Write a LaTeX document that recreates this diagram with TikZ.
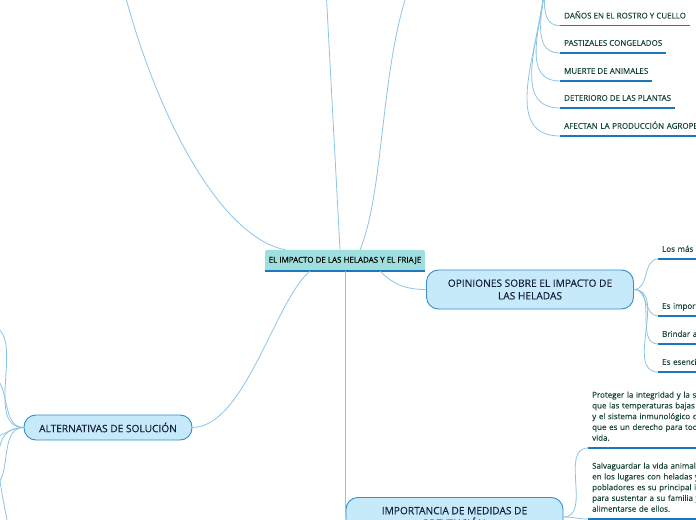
\documentclass[tikz,border=0pt]{standalone}
\usepackage{fontspec}
\setmainfont{Open Sans}[FakeBold=0.3]
\usetikzlibrary{positioning, calc}
\definecolor{centralfill}{RGB}{159,223,222}
\definecolor{topicfill}{RGB}{198,234,250}
\definecolor{topicline}{RGB}{52,140,205}
\definecolor{topictext}{RGB}{22,32,62}
\definecolor{branchline}{RGB}{140,196,230}
\definecolor{subline}{RGB}{27,120,190}
\definecolor{subtext}{RGB}{24,70,52}

\begin{document}
\begin{tikzpicture}[
  x=1bp, y=-1bp,
  central/.style={
    rectangle, rounded corners=2pt,
    minimum width=160bp, minimum height=21bp, inner sep=0pt,
    fill=centralfill, text=black,
    font=\fontsize{8}{9.5}\selectfont
  },
  topic/.style={
    rectangle, rounded corners=12bp,
    draw=topicline, line width=0.9bp, fill=topicfill,
    inner sep=0pt, align=center, text=topictext,
    font=\fontsize{10.2}{12.7}\selectfont
  },
  subitem/.style={
    anchor=south west, inner xsep=4bp, inner ysep=0pt, text depth=7bp,
    text=subtext, font=\fontsize{8}{10.8}\selectfont
  },
  subblock/.style={
    anchor=south west, inner xsep=4bp, inner ysep=7bp,
    text width=130bp, align=left,
    text=subtext, font=\fontsize{8}{10.8}\selectfont
  },
  branch/.style={draw=branchline, line width=0.8bp},
  uline/.style={draw=subline, line width=1.4bp}
]
\useasboundingbox (0,0) rectangle (696,520);
\clip (0,0) rectangle (696,520);

\coordinate (arriba) at (325,-30);
\coordinate (derecha) at (412,-20);
\coordinate (izquierda) at (120,-25);
\coordinate (consecuencias) at (546,-30);
\coordinate (alt1) at (-12,326);
\coordinate (alt2) at (-12,376);
\coordinate (alt3) at (-12,438);
\coordinate (alt4) at (-12,488);
\coordinate (alt5) at (-12,600);

\node[central] (impacto) at (345,260.5) {EL IMPACTO DE LAS HELADAS Y EL FRIAJE};
\node[topic, minimum width=207bp, minimum height=39bp] (opiniones) at (530,289.5) {OPINIONES SOBRE EL IMPACTO DE\\LAS HELADAS};
\node[topic, minimum width=168bp, minimum height=25bp] (alternativas) at (108,427.5) {ALTERNATIVAS DE SOLUCIÓN};
\node[topic, minimum width=217bp, minimum height=39bp, anchor=north] (importancia) at (454.5,497) {IMPORTANCIA DE MEDIDAS DE\\PREVENCIÓN};

\node[subitem] (danos) at (560,25.7) {DAÑOS EN EL ROSTRO Y CUELLO};
\node[subitem] (pastizales) at (560,53) {PASTIZALES CONGELADOS};
\node[subitem] (muerte) at (560,81) {MUERTE DE ANIMALES};
\node[subitem] (deterioro) at (560,108) {DETERIORO DE LAS PLANTAS};
\node[subitem, text width=150bp, align=left] (afectan) at (560,136) {AFECTAN LA PRODUCCIÓN AGROPE};

\node[subitem, text width=60bp, align=left] (losmas) at (658,259) {Los más a};
\node[subitem, text width=60bp, align=left] (esimpor) at (658,316) {Es impor};
\node[subitem, text width=60bp, align=left] (brindar) at (658,344) {Brindar a};
\node[subitem, text width=60bp, align=left] (esesenci) at (658,372) {Es esenci};

\node[subblock] (proteger) at (588,448) {Proteger la integridad y la s\\que las temperaturas bajas\\y el sistema inmunológico c\\que es un derecho para tod\\vida.};
\node[subblock] (salvaguardar) at (588,519) {Salvaguardar la vida animal\\en los lugares con heladas y\\pobladores es su principal i\\para sustentar a su familia y\\alimentarse de ellos.};

\draw[uline] (impacto.south west) -- (impacto.south east);
\draw[uline] (danos.south west) -- (danos.south east);
\draw[uline] (pastizales.south west) -- (pastizales.south east);
\draw[uline] (muerte.south west) -- (muerte.south east);
\draw[uline] (deterioro.south west) -- (deterioro.south east);
\draw[uline] (afectan.south west) -- (afectan.south east);
\draw[uline] (losmas.south west) -- (losmas.south east);
\draw[uline] (esimpor.south west) -- (esimpor.south east);
\draw[uline] (brindar.south west) -- (brindar.south east);
\draw[uline] (esesenci.south west) -- (esesenci.south east);
\draw[uline] (proteger.south west) -- (proteger.south east);
\draw[uline] (salvaguardar.south west) -- (salvaguardar.south east);

\draw[branch] ([xshift=-5bp]impacto.north) -- (arriba);
\draw[branch] ([xshift=15bp]impacto.north) .. controls (385,190) and (380,60) .. (derecha);
\draw[branch] ([xshift=-60bp]impacto.north) .. controls (215,235) and (150,100) .. (izquierda);
\draw[branch] ([xshift=35bp]impacto.south) to[out=-45,in=180] (opiniones.west);
\draw[branch] (impacto.south) -- (impacto.south |- importancia.west);
\draw[branch] ([xshift=-35bp]impacto.south) .. controls (275,300) and (245,427) .. (alternativas.east);

\draw[branch] (consecuencias) to[out=-90,in=180] (danos.south west);
\draw[branch] (consecuencias) to[out=-90,in=180] (pastizales.south west);
\draw[branch] (consecuencias) to[out=-90,in=180] (muerte.south west);
\draw[branch] (consecuencias) to[out=-90,in=180] (deterioro.south west);
\draw[branch] (consecuencias) to[out=-90,in=180] (afectan.south west);

\draw[branch] (opiniones.east) to[out=0,in=180] (losmas.south west);
\draw[branch] (opiniones.east) to[out=0,in=180] (esimpor.south west);
\draw[branch] (opiniones.east) to[out=0,in=180] (brindar.south west);
\draw[branch] (opiniones.east) to[out=0,in=180] (esesenci.south west);

\draw[branch] (importancia.east) to[out=0,in=180] (proteger.south west);
\draw[branch] (importancia.east) to[out=0,in=180] (salvaguardar.south west);

\draw[branch] (alternativas.west) to[out=180,in=0] (alt1);
\draw[branch] (alternativas.west) to[out=180,in=0] (alt2);
\draw[branch] (alternativas.west) to[out=180,in=0] (alt3);
\draw[branch] (alternativas.west) to[out=180,in=0] (alt4);
\draw[branch] (alternativas.west) to[out=180,in=0] (alt5);

\end{tikzpicture}
\end{document}
